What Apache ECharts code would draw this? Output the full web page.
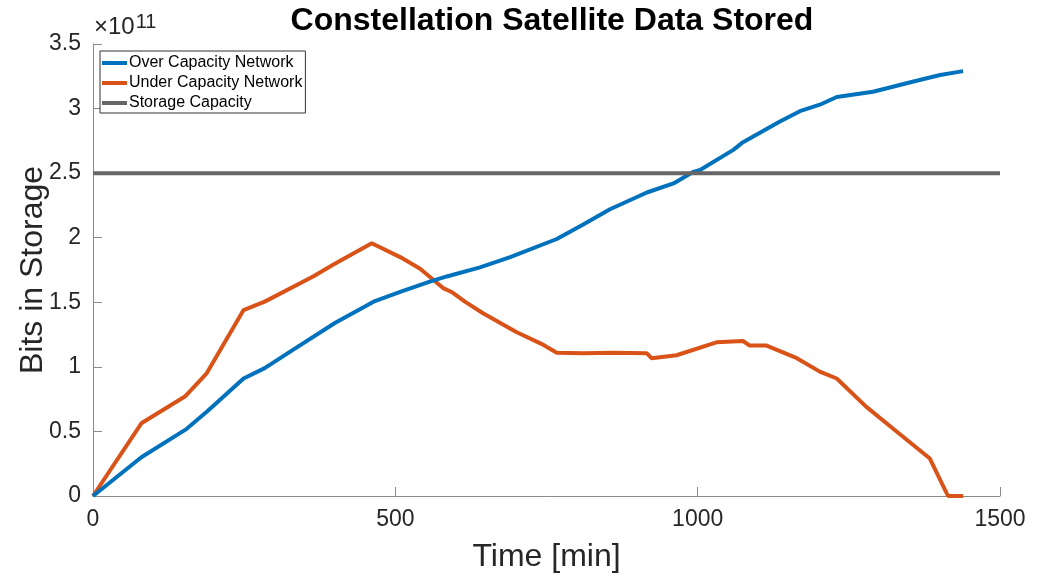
<!DOCTYPE html>
<html>
<head>
<meta charset="utf-8">
<script src="https://cdn.jsdelivr.net/npm/echarts@6/dist/echarts.min.js"></script>
<style>
  html, body { margin: 0; padding: 0; background: #fff; }
  #chart { width: 1040px; height: 576px; }
</style>
</head>
<body>
<div id="chart"></div>
<script>
// values in units of 1e11 bits
const overTime = [0, 80, 155, 190, 249, 284, 330, 400, 464, 508, 557, 585, 640, 690, 767, 810, 855, 916, 960, 993, 1004, 1059, 1075, 1136, 1169, 1202, 1230, 1290, 1357, 1401, 1439]
const overBits = [0, 0.30, 0.52, 0.66, 0.91, 0.99, 1.13, 1.34, 1.505, 1.58, 1.66, 1.70, 1.77, 1.85, 1.99, 2.10, 2.22, 2.35, 2.42, 2.51, 2.525, 2.68, 2.74, 2.90, 2.98, 3.03, 3.09, 3.13, 3.21, 3.26, 3.29]
const underTime = [0, 80, 152, 188, 249, 284, 364, 397, 461, 508, 541, 579, 593, 615, 645, 700, 745, 767, 811, 860, 916, 924, 965, 1031, 1075, 1086, 1114, 1164, 1202, 1230, 1279, 1329, 1384, 1414, 1439]
const underBits = [0, 0.563, 0.77, 0.95, 1.44, 1.505, 1.70, 1.79, 1.957, 1.85, 1.76, 1.61, 1.58, 1.505, 1.415, 1.27, 1.17, 1.11, 1.105, 1.11, 1.105, 1.066, 1.09, 1.19, 1.20, 1.165, 1.165, 1.067, 0.963, 0.91, 0.69, 0.50, 0.29, 0, 0]
const capTime = [0, 1500]
const capBits = [2.5, 2.5]
const xTicks = [0, 500, 1000, 1500]
const yTicks = [0, 0.5, 1, 1.5, 2, 2.5, 3, 3.5]

const font = '"Liberation Sans", Arial, Helvetica, sans-serif'
const pairs = (xs, ys) => xs.map((x, i) => [x, ys[i]])

let chart = echarts.init(document.getElementById('chart'))
chart.setOption({
  animation: false,
  textStyle: { fontFamily: font },
  title: {
    text: 'Constellation Satellite Data Stored',
    left: 547,
    textAlign: 'center',
    top: 0,
    textStyle: { fontSize: 32, fontWeight: 'bold', color: '#000', fontFamily: font }
  },
  grid: { left: 93, right: 40, top: 44, bottom: 80, containLabel: false, outerBoundsMode: 'none' },
  legend: {
    orient: 'vertical',
    left: 100,
    top: 51,
    icon: 'rect',
    itemWidth: 25,
    itemHeight: 4,
    itemGap: 4,
    padding: [4, 3, 2, 2],
    borderColor: '#333',
    borderWidth: 1,
    backgroundColor: '#fff',
    textStyle: { fontSize: 16, color: '#000', fontFamily: font, padding: [0, 0, 0, -3] },
    data: ['Over Capacity Network', 'Under Capacity Network', 'Storage Capacity']
  },
  graphic: [{
    type: 'text',
    left: 94,
    top: 12,
    style: {
      text: '{a|×10}{b|11}',
      rich: {
        a: { fontSize: 24, fill: '#262626', fontFamily: font },
        b: { fontSize: 20, fill: '#262626', fontFamily: font, verticalAlign: 'top', padding: [0, 0, 10, 1] }
      }
    }
  }],
  xAxis: {
    type: 'value',
    min: 0,
    max: 1500,
    interval: 500,
    name: 'Time [min]',
    nameLocation: 'middle',
    nameGap: 45,
    nameMoveOverlap: false,
    nameTextStyle: { fontSize: 32, color: '#262626', fontFamily: font },
    splitLine: { show: false },
    axisLine: { lineStyle: { color: '#8a8a8a', width: 1 } },
    axisTick: { inside: true, length: 9, lineStyle: { color: '#8a8a8a' } },
    axisLabel: {
      fontSize: 23, color: '#262626', margin: 12,
      formatter: v => xTicks.includes(v) ? String(v) : ''
    }
  },
  yAxis: {
    type: 'value',
    min: 0,
    max: 3.5,
    interval: 0.5,
    name: 'Bits in Storage',
    nameLocation: 'middle',
    nameGap: 44,
    nameMoveOverlap: false,
    nameTextStyle: { fontSize: 32, color: '#262626', fontFamily: font },
    splitLine: { show: false },
    axisLine: { show: true, lineStyle: { color: '#8a8a8a', width: 1 } },
    axisTick: { show: true, inside: true, length: 9, lineStyle: { color: '#8a8a8a' } },
    axisLabel: {
      fontSize: 23, color: '#262626', margin: 12,
      formatter: v => yTicks.includes(v) ? String(v) : ''
    }
  },
  series: [
    {
      name: 'Over Capacity Network',
      type: 'line',
      data: pairs(overTime, overBits),
      symbol: 'none',
      color: '#0072BD',
      lineStyle: { width: 4, color: '#0072BD' },
      z: 3
    },
    {
      name: 'Under Capacity Network',
      type: 'line',
      data: pairs(underTime, underBits),
      symbol: 'none',
      color: '#D95319',
      lineStyle: { width: 4, color: '#D95319' },
      z: 2
    },
    {
      name: 'Storage Capacity',
      type: 'line',
      data: pairs(capTime, capBits),
      symbol: 'none',
      color: '#666666',
      lineStyle: { width: 4, color: '#666666' },
      z: 4
    }
  ]
})
</script>
</body>
</html>
